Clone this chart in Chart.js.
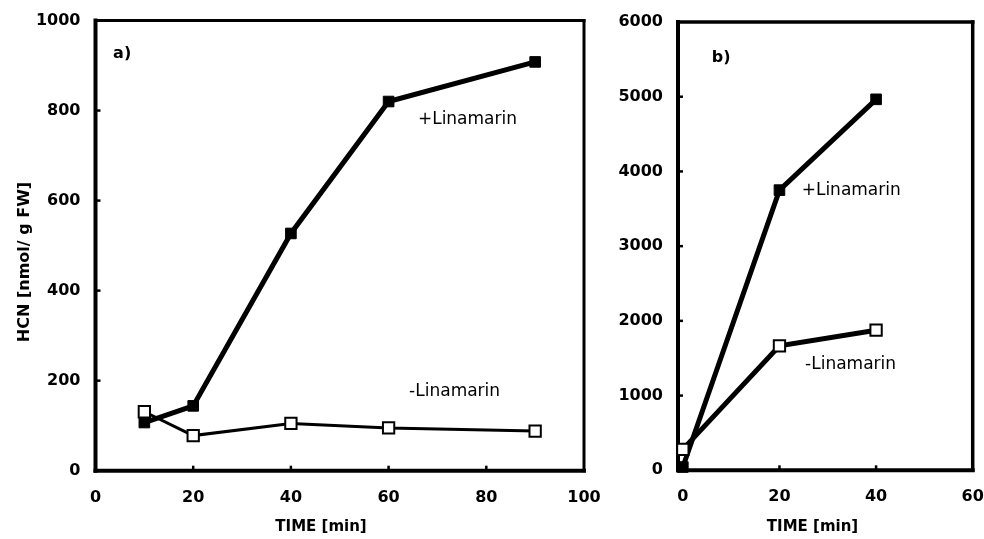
<!DOCTYPE html>
<html><head><meta charset="utf-8">
<script src="https://cdn.jsdelivr.net/npm/chart.js@4/dist/chart.umd.min.js"></script>
<style>
html,body{margin:0;padding:0;background:#fff;width:984px;height:539px;overflow:hidden}
#ca{position:absolute;left:0;top:0}
#cb{position:absolute;left:600px;top:0}
</style></head><body>
<canvas id="ca" width="600" height="539"></canvas>
<canvas id="cb" width="384" height="539"></canvas>
<script>
// ---- data ----
const timeA = [10, 20, 40, 60, 90];
const plusA = [107, 144, 527, 820, 908];
const minusA = [131, 78, 105, 95, 88];
const timeB = [0, 20, 40];
const plusB = [44, 3750, 4965];
const minusB = [280, 1665, 1875];
const xTicksA = [0, 20, 40, 60, 80, 100];
const yTicksA = [0, 200, 400, 600, 800, 1000];
const xTicksB = [0, 20, 40, 60];
const yTicksB = [0, 1000, 2000, 3000, 4000, 5000, 6000];
const seriesNames = ['+Linamarin', '-Linamarin'];
const panelLabels = ['a)', 'b)'];
const xTitle = 'TIME [min]';
const yTitle = 'HCN [nmol/ g FW]';

const FONT = "'DejaVu Sans', sans-serif";

const decor = {
  id: 'decor',
  beforeDatasetsDraw(chart, args, o) {
    const {ctx, chartArea: a, scales: {x, y}} = chart;
    ctx.save();
    ctx.strokeStyle = '#000';
    ctx.lineWidth = 2.5;
    x.ticks.forEach(t => {
      if (t.value <= x.min || t.value >= x.max) return;
      const px = x.getPixelForValue(t.value);
      ctx.beginPath(); ctx.moveTo(px, a.bottom); ctx.lineTo(px, a.bottom - o.tick); ctx.stroke();
    });
    y.ticks.forEach(t => {
      if (t.value <= y.min || t.value >= y.max) return;
      const py = y.getPixelForValue(t.value);
      ctx.beginPath(); ctx.moveTo(a.left, py); ctx.lineTo(a.left + o.tick, py); ctx.stroke();
    });
    const f = o.frame;
    ctx.lineCap = 'square';
    const seg = (x1, y1, x2, y2, w) => { ctx.lineWidth = w; ctx.beginPath(); ctx.moveTo(x1, y1); ctx.lineTo(x2, y2); ctx.stroke(); };
    seg(a.left, a.top, a.right, a.top, f[0]);
    seg(a.right, a.top, a.right, a.bottom, f[1]);
    seg(a.left, a.bottom, a.right, a.bottom, f[2]);
    seg(a.left, a.top, a.left, a.bottom, f[3]);
    ctx.restore();
  },
  afterDatasetsDraw(chart, args, o) {
    const {ctx, scales: {x, y}} = chart;
    ctx.save();
    ctx.fillStyle = '#000';
    ctx.textBaseline = 'middle';
    ctx.textAlign = 'left';
    o.notes.forEach(n => {
      ctx.font = (n.bold ? 'bold ' : '') + n.size + 'px ' + FONT;
      ctx.fillText(n.text, x.getPixelForValue(n.x), y.getPixelForValue(n.y));
    });
    ctx.textAlign = 'center';
    ctx.font = 'bold 15px ' + FONT;
    ctx.fillText(xTitle, o.xTitle[0], o.xTitle[1]);
    if (o.yTitle) {
      ctx.font = 'bold 16px ' + FONT;
      ctx.translate(o.yTitle[0], o.yTitle[1]);
      ctx.rotate(-Math.PI / 2);
      ctx.fillText(yTitle, 0, 0);
    }
    ctx.restore();
  }
};

function ds(times, vals, filled, lw) {
  return {
    label: filled ? seriesNames[0] : seriesNames[1],
    data: times.map((t, i) => ({x: t, y: vals[i]})),
    borderColor: '#000',
    borderWidth: lw,
    pointStyle: 'rect',
    pointRadius: filled ? 7.5 : 8,
    pointBackgroundColor: filled ? '#000' : '#fff',
    pointBorderColor: '#000',
    pointBorderWidth: filled ? 1 : 2,
    tension: 0,
    clip: false
  };
}

function zeroPad(s) { s.paddingLeft = 0; s.paddingRight = 0; s.paddingTop = 0; s.paddingBottom = 0; }

function scales(xmin, xmax, xt, ymin, ymax, yt, yW, xH) {
  const tickFont = {family: FONT, size: 16, weight: 'bold', lineHeight: 1};
  return {
    x: {
      type: 'linear', position: 'bottom', min: xmin, max: xmax,
      afterBuildTicks: s => { s.ticks = xt.map(v => ({value: v})); },
      afterFit: s => { s.height = xH; zeroPad(s); },
      grid: {display: false, drawTicks: false},
      border: {display: false},
      ticks: {font: tickFont, color: '#000', padding: 19, maxRotation: 0, autoSkip: false, callback: v => String(v)}
    },
    y: {
      type: 'linear', position: 'left', min: ymin, max: ymax,
      afterBuildTicks: s => { s.ticks = yt.map(v => ({value: v})); },
      afterFit: s => { s.width = yW; zeroPad(s); },
      grid: {display: false, drawTicks: false},
      border: {display: false},
      ticks: {font: tickFont, color: '#000', padding: 15, autoSkip: false, callback: v => String(v)}
    }
  };
}

new Chart(document.getElementById('ca'), {
  type: 'line',
  data: {datasets: [ds(timeA, minusA, false, 3), ds(timeA, plusA, true, 5)]},
  options: {
    responsive: false, animation: false,
    layout: {padding: {top: 20.5, right: 16, bottom: 0, left: 0}},
    scales: scales(0, 100, xTicksA, 0, 1000, yTicksA, 95.5, 68.3),
    plugins: {
      legend: {display: false}, tooltip: {enabled: false},
      decor: {
        tick: 5, frame: [3, 3, 4, 4],
        notes: [
          {text: panelLabels[0], x: 3.6, y: 925, size: 16, bold: true},
          {text: seriesNames[0], x: 66, y: 779, size: 17},
          {text: seriesNames[1], x: 64.2, y: 176, size: 17}
        ],
        xTitle: [321, 527],
        yTitle: [25, 262]
      }
    }
  },
  plugins: [decor]
});

new Chart(document.getElementById('cb'), {
  type: 'line',
  data: {datasets: [ds(timeB, minusB, false, 5), ds(timeB, plusB, true, 5)]},
  options: {
    responsive: false, animation: false,
    layout: {padding: {top: 22, right: 11.3, bottom: 0, left: 0}},
    scales: scales(-1, 60, xTicksB, 0, 6000, yTicksB, 78, 68.7),
    plugins: {
      legend: {display: false}, tooltip: {enabled: false},
      decor: {
        tick: 5, frame: [3.5, 3.5, 4, 4],
        notes: [
          {text: panelLabels[1], x: 6, y: 5515, size: 16, bold: true},
          {text: seriesNames[0], x: 24.6, y: 3748, size: 17},
          {text: seriesNames[1], x: 25.3, y: 1419, size: 17}
        ],
        xTitle: [212.5, 527]
      }
    }
  },
  plugins: [decor]
});
</script>
</body></html>
